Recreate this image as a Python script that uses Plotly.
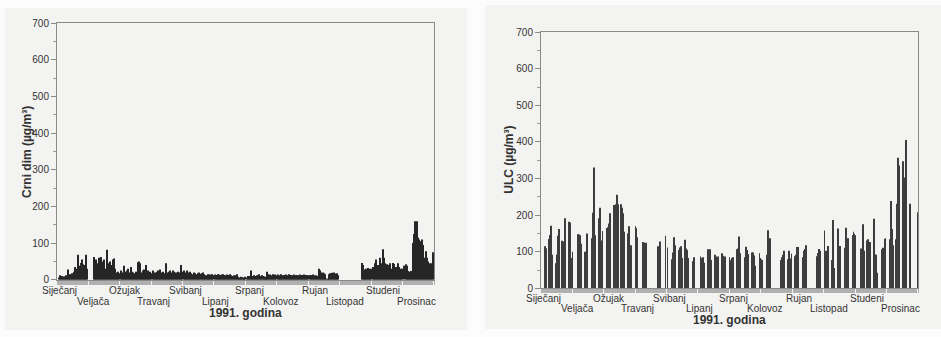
import numpy as np
import plotly.graph_objects as go

N = None
# ---- Crni dim (black smoke), daily values 1991, µg/m³ ----
cd_jan = [0, 6, 12, 8, 10, 6, 9, 8, 12, 10, 28, 12, 15, 10, 18, 12, 22, 35, 30, 20, 68, 38, 30, 46, 55, 42, 35, 40, 68, 30, 0]
cd_feb = [0, 0, 0, 0, 62, 40, 55, 35, 45, 60, 30, 62, 50, 38, 55, 30, 8, 82, 35, 45, 50, 40, 25, 55, 58, 30, 15, 20]
cd_mar = [22, 18, 25, 20, 15, 38, 22, 18, 25, 30, 20, 15, 35, 22, 20, 18, 15, 22, 10, 48, 50, 45, 20, 15, 25, 28, 22, 40, 18, 25, 20]
cd_apr = [22, 18, 25, 12, 20, 15, 22, 25, 18, 28, 15, 20, 22, 18, 12, 45, 20, 15, 22, 25, 18, 20, 25, 22, 15, 20, 18, 22, 20, 15]
cd_may = [40, 22, 25, 18, 20, 25, 15, 20, 22, 18, 15, 12, 20, 18, 15, 10, 18, 20, 16, 15, 18, 20, 15, 12, 10, 12, 15, 14, 12, 14, 15]
cd_jun = [12, 14, 13, 12, 15, 14, 13, 12, 14, 15, 13, 12, 10, 14, 12, 13, 15, 12, 10, 8, 12, 10, 12, 15, 8, 6, 5, 8, 7, 6]
cd_jul = [5, 8, 6, 10, 8, 10, 25, 8, 10, 12, 8, 10, 12, 10, 15, 10, 8, 12, 10, 9, 8, 5, 22, 15, 12, 14, 12, 10, 15, 12, 14]
cd_aug = [12, 14, 10, 12, 15, 12, 10, 13, 12, 14, 12, 10, 15, 12, 13, 10, 12, 14, 12, 11, 13, 12, 10, 14, 12, 13, 12, 14, 12, 13, 12]
cd_sep = [12, 13, 12, 12, 14, 12, 10, 12, 8, 10, 30, 26, 20, 18, 20, 18, 15, 2, 0, 2, 15, 18, 16, 19, 18, 20, 17, 15, 18, 12]
cd_oct = [0, 0, 0, 0, 0, 0, 0, 0, 0, 0, 0, 0, 0, 0, 0, 0, 0, 0, 0, 0, 0, 0, 46, 40, 28, 25, 30, 28, 32, 30, 28]
cd_nov = [30, 35, 32, 45, 55, 30, 40, 38, 60, 45, 35, 83, 60, 45, 30, 42, 40, 28, 45, 30, 25, 46, 43, 28, 35, 30, 45, 35, 28, 30]
cd_dec = [30, 38, 0, 42, 38, 24, 22, 21, 24, 22, 100, 125, 160, 125, 160, 115, 110, 105, 90, 110, 95, 60, 52, 78, 60, 50, 45, 30, 45, 33, 75]

# ---- ULC, daily values 1991 (None = no measurement) ----
ulc_jan = [N, N, N, 115, 110, N, N, 135, 146, 171, 92, N, N, N, 69, 93, 144, 162, N, N, 130, 97, 128, 192, N, N, N, 182, 180, 83, 100]
ulc_feb = [N, N, N, N, 148, 147, 145, 122, N, N, N, 100, 100, 150, N, N, N, N, 137, 207, 330, 145, N, N, N, 192, 220, 131]
ulc_mar = [157, N, N, N, 165, 167, 177, 205, N, N, N, 228, 200, 230, 256, 230, N, N, 230, 220, 205, 155, N, N, N, 150, 170, 105, 118, N, N]
ulc_apr = [N, 170, 165, 140, N, N, N, N, 127, 125, 97, 125, N, N, N, N, N, N, N, N, N, N, N, 115, 90, 128, N, N, N, N]
ulc_may = [144, N, 112, N, N, N, 80, 98, 140, 118, N, N, N, 105, 112, 115, 83, N, N, 133, 109, 105, 83, N, N, N, N, 74, 85, N, N]
ulc_jun = [N, N, N, 87, 83, 85, 70, N, N, N, 107, 21, 107, 78, N, N, N, 92, 87, 63, 87, N, N, N, 96, 89, 65, 87, N, N]
ulc_jul = [N, 85, 77, 83, 85, N, N, N, 107, 109, 142, 96, N, N, N, N, 85, 114, 105, 94, N, N, N, 98, 98, 90, 62, N, N, N, 96]
ulc_aug = [83, 80, 78, N, N, N, 92, 159, 124, 137, N, N, N, N, N, N, N, N, N, N, 78, 85, 92, 103, N, N, N, 80, 103, 82, 95]
ulc_sep = [N, N, 88, 92, 113, 113, N, N, N, N, 85, 103, 108, 118, N, N, N, N, N, N, N, N, N, N, 88, 97, 108, 103, N, N]
ulc_oct = [N, 158, 102, 103, 116, N, N, N, 78, 187, 56, N, N, N, 164, 50, 116, N, N, N, N, 111, 166, 136, 137, N, N, N, 146, 155, 149]
ulc_nov = [145, N, N, N, N, 109, 107, 175, 103, N, N, 131, 134, 127, 127, N, N, N, 190, 93, 92, 43, N, N, N, N, 107, 111, 136, 137]
ulc_dec = [N, N, N, 134, 239, 162, 118, N, N, 134, 231, 357, 336, N, N, N, 347, 303, 120, 405, N, N, N, 231, N, N, N, N, N, N, 208]

month_names = ["Siječanj", "Veljača", "Ožujak", "Travanj", "Svibanj", "Lipanj",
               "Srpanj", "Kolovoz", "Rujan", "Listopad", "Studeni", "Prosinac"]
month_label_pos = [2, 35, 66, 93, 124, 153, 186, 217, 250, 279, 316, 348]
y_ticks = [0, 100, 200, 300, 400, 500, 600, 700]

crni_dim = (cd_jan + cd_feb + cd_mar + cd_apr + cd_may + cd_jun +
            cd_jul + cd_aug + cd_sep + cd_oct + cd_nov + cd_dec)
ulc = (ulc_jan + ulc_feb + ulc_mar + ulc_apr + ulc_may + ulc_jun +
       ulc_jul + ulc_aug + ulc_sep + ulc_oct + ulc_nov + ulc_dec)
days = np.arange(len(crni_dim)) + 0.5

W, H = 941, 337
FONT = "Liberation Sans, Arial, sans-serif"

fig = go.Figure()
fig.add_trace(go.Bar(x=days, y=crni_dim, width=1.0, marker=dict(color="#262626", line=dict(width=0)),
                     xaxis="x", yaxis="y", showlegend=False))
fig.add_trace(go.Bar(x=days, y=ulc, width=0.8, marker=dict(color="#3d3d3d", line=dict(width=0)),
                     xaxis="x2", yaxis="y2", showlegend=False))

def xaxis(domain, anchor):
    return dict(domain=domain, anchor=anchor, range=[0, 365], showgrid=False, zeroline=False,
                showline=True, linecolor="#8a8a8a", linewidth=1, mirror=True,
                ticks="outside", tickmode="linear", tick0=0, dtick=1, ticklen=4,
                tickwidth=1, tickcolor="#b0b0b0", showticklabels=False)

def yaxis(domain, anchor):
    return dict(domain=domain, anchor=anchor, range=[0, 700], showgrid=False, zeroline=False,
                showline=True, linecolor="#8a8a8a", linewidth=1, mirror=True,
                ticks="outside", tickvals=y_ticks, ticklen=5, tickcolor="#8a8a8a",
                tickfont=dict(family=FONT, size=10, color="#333333"),
                minor=dict(ticks="outside", dtick=50, tick0=0, ticklen=3, tickcolor="#9a9a9a"))

def px_x(p):
    return p / W

def px_y(p):
    return 1 - p / H

fig.update_layout(
    width=W, height=H, margin=dict(l=0, r=0, t=0, b=0),
    paper_bgcolor="#fcfcfc", plot_bgcolor="rgba(0,0,0,0)",
    xaxis=xaxis([px_x(57), px_x(434)], "y"),
    yaxis=yaxis([px_y(284), px_y(19)], "x"),
    xaxis2=xaxis([px_x(541), px_x(918)], "y2"),
    yaxis2=yaxis([px_y(293), px_y(28)], "x2"),
    font=dict(family=FONT, color="#333333"),
    shapes=[
        dict(type="rect", xref="paper", yref="paper", x0=px_x(5), x1=px_x(467), y0=px_y(336), y1=px_y(3),
             fillcolor="#f3f3f1", line=dict(width=0), layer="below"),
        dict(type="rect", xref="paper", yref="paper", x0=px_x(485), x1=1, y0=px_y(335), y1=1,
             fillcolor="#f3f3f1", line=dict(width=0), layer="below"),
    ],
)

annotations = []
panels = [("x", "xaxis", 295, 306, 318, "Crni dim (µg/m³)", 27, 152),
          ("x2", "xaxis2", 303, 314, 326, "ULC (µg/m³)", 509, 160)]
for xref, axname, r1, r2, ty, ytitle, tx, tyy in panels:
    for i, (name, pos) in enumerate(zip(month_names, month_label_pos)):
        annotations.append(dict(x=pos, y=px_y(r1 if i % 2 == 0 else r2), xref=xref, yref="paper",
                                text=name, showarrow=False, xanchor="center", yanchor="middle",
                                font=dict(family=FONT, size=10, color="#333333")))
    dom = fig.layout[axname].domain
    annotations.append(dict(x=0.5 * (dom[0] + dom[1]), y=px_y(ty), xref="paper", yref="paper",
                            text="<b>1991. godina</b>", showarrow=False, xanchor="center", yanchor="middle",
                            font=dict(family=FONT, size=12, color="#333333")))
    annotations.append(dict(x=px_x(tx), y=px_y(tyy), xref="paper", yref="paper",
                            text="<b>" + ytitle + "</b>", textangle=-90, showarrow=False,
                            xanchor="center", yanchor="middle",
                            font=dict(family=FONT, size=12, color="#333333")))
fig.update_layout(annotations=annotations)

fig.write_html("out.html")
